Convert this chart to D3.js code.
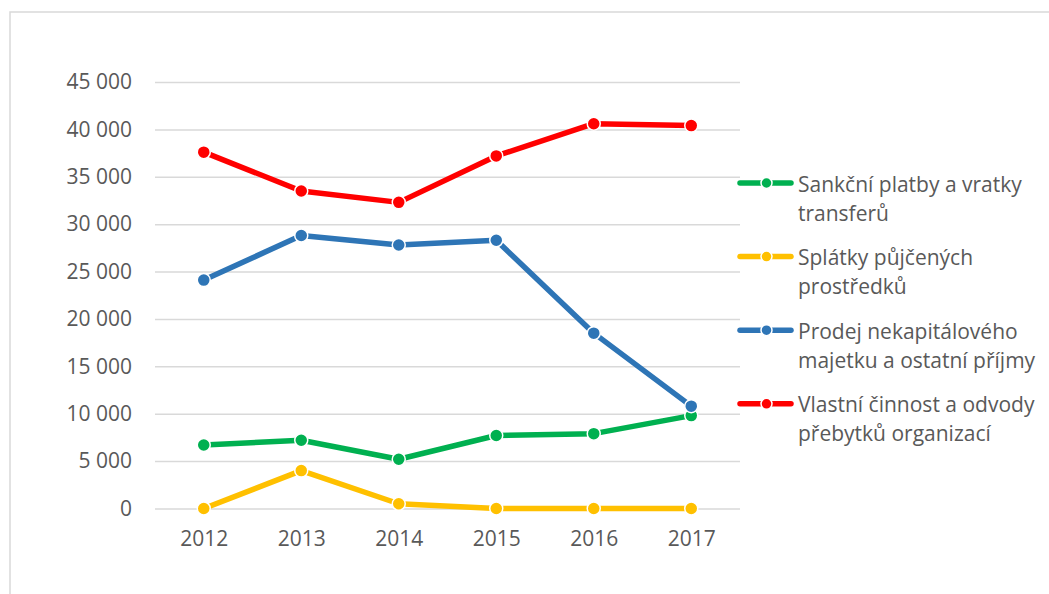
<!DOCTYPE html>
<html>
<head>
<meta charset="utf-8">
<script src="https://cdn.jsdelivr.net/npm/d3@7"></script>
<style>
  body { margin: 0; background: #fff; }
  text { font-family: "Open Sans", sans-serif; fill: #595959; }
</style>
</head>
<body>
<div id="chart"></div>
<script>
var years = ["2012", "2013", "2014", "2015", "2016", "2017"];
var sankcni = [6700, 7200, 5200, 7700, 7900, 9800];
var splatky = [0, 4000, 500, 0, 0, 0];
var prodej = [24100, 28800, 27800, 28300, 18500, 10800];
var vlastni = [37600, 33500, 32300, 37200, 40600, 40400];
var yTicks = [0, 5000, 10000, 15000, 20000, 25000, 30000, 35000, 40000, 45000];

var series = [
  {name: ["Sankční platby a vratky", "transferů"], values: sankcni, color: "#00b050"},
  {name: ["Splátky půjčených", "prostředků"], values: splatky, color: "#ffc000"},
  {name: ["Prodej nekapitálového", "majetku a ostatní příjmy"], values: prodej, color: "#2e75b6"},
  {name: ["Vlastní činnost a odvody", "přebytků organizací"], values: vlastni, color: "#ff0000"}
];

var width = 1049, height = 594;
var svg = d3.select("#chart").append("svg")
  .attr("width", width)
  .attr("height", height);

// chart border (only top and left edges fall inside the picture)
svg.append("rect")
  .attr("x", 10).attr("y", 12)
  .attr("width", 1060).attr("height", 600)
  .attr("fill", "none")
  .attr("stroke", "#d9d9d9")
  .attr("stroke-width", 1.5);

var x = d3.scalePoint().domain(years).range([155, 740]).padding(0.5);
var y = d3.scaleLinear().domain([0, 45000]).range([508.5, 82]);

var fmt = function (d) { return d3.format(",")(d).replace(/,/g, " "); };

// gridlines + y labels
var yAxis = svg.append("g")
  .attr("transform", "translate(155,0)")
  .call(d3.axisLeft(y).tickValues(yTicks).tickSize(-585).tickPadding(23).tickFormat(fmt));
yAxis.select(".domain").remove();
yAxis.selectAll(".tick line").attr("stroke", "#d9d9d9").attr("stroke-width", 1.5);
yAxis.selectAll(".tick text")
  .attr("font-family", "Open Sans").attr("font-size", 21).attr("fill", "#595959");

// x labels
var xAxis = svg.append("g")
  .attr("transform", "translate(0,508.5)")
  .call(d3.axisBottom(x).tickSize(0).tickPadding(23));
xAxis.select(".domain").remove();
xAxis.selectAll(".tick text")
  .attr("font-family", "Open Sans").attr("font-size", 21).attr("fill", "#595959");

var line = d3.line()
  .x(function (d, i) { return x(years[i]); })
  .y(function (d) { return y(d); });

series.forEach(function (s) {
  var g = svg.append("g");
  g.append("path")
    .attr("d", line(s.values))
    .attr("fill", "none")
    .attr("stroke", s.color)
    .attr("stroke-width", 5.5)
    .attr("stroke-linejoin", "round")
    .attr("stroke-linecap", "round");
  g.selectAll("circle")
    .data(s.values)
    .enter().append("circle")
    .attr("cx", function (d, i) { return x(years[i]); })
    .attr("cy", function (d) { return y(d); })
    .attr("r", 6.5)
    .attr("fill", s.color)
    .attr("stroke", "#fff")
    .attr("stroke-width", 1.5);
});

// legend
var legend = svg.append("g").attr("transform", "translate(738,183)");
var item = legend.selectAll(".item")
  .data(series)
  .enter().append("g")
  .attr("class", "item")
  .attr("transform", function (d, i) { return "translate(0," + (i * 73.6) + ")"; });
item.append("line")
  .attr("x1", 2).attr("x2", 53).attr("y1", 0).attr("y2", 0)
  .attr("stroke", function (d) { return d.color; })
  .attr("stroke-width", 5.5)
  .attr("stroke-linecap", "round");
item.append("circle")
  .attr("cx", 28.5).attr("cy", 0).attr("r", 5.5)
  .attr("fill", function (d) { return d.color; })
  .attr("stroke", "#fff").attr("stroke-width", 1.5);
item.append("text")
  .attr("x", 60).attr("y", 8.5)
  .attr("font-size", 21)
  .text(function (d) { return d.name[0]; });
item.append("text")
  .attr("x", 60).attr("y", 37.5)
  .attr("font-size", 21)
  .text(function (d) { return d.name[1]; });
</script>
</body>
</html>
